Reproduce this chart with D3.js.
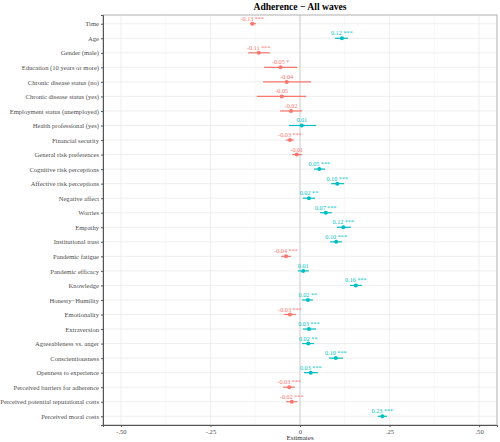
<!DOCTYPE html>
<html>
<head>
<meta charset="utf-8">
<script src="https://cdn.jsdelivr.net/npm/d3@7"></script>
<style>
  body { margin: 0; background: #fff; }
  svg { display: block; }
</style>
</head>
<body>
<svg id="chart" width="500" height="442"></svg>
<script>
const categories = [
  "Time", "Age", "Gender (male)", "Education (10 years or more)",
  "Chronic disease status (no)", "Chronic disease status (yes)",
  "Employment status (unemployed)", "Health professional (yes)",
  "Financial security", "General risk preferences", "Cognitive risk perceptions",
  "Affective risk perceptions", "Negative affect", "Worries", "Empathy",
  "Institutional trust", "Pandemic fatigue", "Pandemic efficacy", "Knowledge",
  "Honesty\u2212Humility", "Emotionality", "Extraversion", "Agreeableness vs. anger",
  "Conscientiousness", "Openness to experience", "Perceived barriers for adherence",
  "Perceived potential reputational costs", "Perceived moral costs"
];
const estimates = [
  -0.133, 0.117, -0.115, -0.054, -0.037, -0.051, -0.025, 0.005,
  -0.028, -0.009, 0.054, 0.104, 0.025, 0.072, 0.121, 0.101,
  -0.039, 0.009, 0.156, 0.022, -0.028, 0.025, 0.023, 0.100,
  0.030, -0.030, -0.023, 0.230
];
const ciLow = [
  -0.140, 0.098, -0.145, -0.100, -0.103, -0.120, -0.056, -0.031,
  -0.039, -0.022, 0.039, 0.087, 0.008, 0.056, 0.103, 0.084,
  -0.053, -0.006, 0.140, 0.006, -0.045, 0.008, 0.006, 0.081,
  0.011, -0.047, -0.039, 0.217
];
const ciHigh = [
  -0.123, 0.134, -0.084, -0.008, 0.031, 0.017, 0.006, 0.045,
  -0.017, 0.006, 0.070, 0.123, 0.042, 0.089, 0.142, 0.117,
  -0.025, 0.025, 0.173, 0.036, -0.011, 0.045, 0.039, 0.120,
  0.050, -0.014, -0.008, 0.243
];
const valueLabels = [
  "-0.13 ***", "0.12 ***", "-0.11 ***", "-0.05 *", "-0.04", "-0.05", "-0.02", "0.01",
  "-0.03 ***", "-0.01", "0.05 ***", "0.10 ***", "0.02 **", "0.07 ***", "0.12 ***", "0.10 ***",
  "-0.04 ***", "0.01", "0.16 ***", "0.02 **", "-0.03 ***", "0.03 ***", "0.02 **", "0.10 ***",
  "0.03 ***", "-0.03 ***", "-0.02 ***", "0.23 ***"
];
const tickValues = [-0.5, -0.25, 0, 0.25, 0.5];
const tickLabels = ["-.50", "-.25", "0", ".25", ".50"];
const minorTicks = [-0.375, -0.125, 0.125, 0.375];
const title = "Adherence \u2212 All waves";
const xTitle = "Estimates";

const negColor = "#F8766D", posColor = "#00BFC4";
const font = "'Liberation Serif', 'Times New Roman', serif";

const svg = d3.select("#chart");
const m = { left: 103, right: 3, top: 15, bottom: 17 };
const W = 500, H = 442;
const x = d3.scaleLinear().domain([-0.55, 0.55]).range([m.left, W - m.right]);
const y = d3.scalePoint().domain(categories).range([m.top, H - m.bottom]).padding(0.6);

const g = svg.append("g");

// grid
g.selectAll(".minor").data(minorTicks).enter().append("line")
  .attr("x1", d => x(d)).attr("x2", d => x(d))
  .attr("y1", m.top).attr("y2", H - m.bottom)
  .attr("stroke", "#f2f2f2").attr("stroke-width", 0.6);
g.selectAll(".major").data(tickValues).enter().append("line")
  .attr("x1", d => x(d)).attr("x2", d => x(d))
  .attr("y1", m.top).attr("y2", H - m.bottom)
  .attr("stroke", "#ebebeb").attr("stroke-width", 0.8);
g.selectAll(".hgrid").data(categories).enter().append("line")
  .attr("x1", m.left).attr("x2", W - m.right)
  .attr("y1", d => y(d)).attr("y2", d => y(d))
  .attr("stroke", "#ebebeb").attr("stroke-width", 0.8);

// zero line
g.append("line")
  .attr("x1", x(0)).attr("x2", x(0))
  .attr("y1", m.top).attr("y2", H - m.bottom)
  .attr("stroke", "#c8c8c8").attr("stroke-width", 0.8);

// panel border
g.append("rect")
  .attr("x", m.left).attr("y", m.top)
  .attr("width", W - m.right - m.left).attr("height", H - m.bottom - m.top)
  .attr("fill", "none").attr("stroke", "#b0b0b0").attr("stroke-width", 1);

// axes
const xAxis = d3.axisBottom(x).tickValues(tickValues)
  .tickFormat((d, i) => tickLabels[i]).tickSize(2).tickPadding(2);
const xg = g.append("g").attr("transform", `translate(0,${H - m.bottom})`).call(xAxis);
const yAxis = d3.axisLeft(y).tickSize(2).tickPadding(2);
const yg = g.append("g").attr("transform", `translate(${m.left},0)`).call(yAxis);
[xg, yg].forEach(a => {
  a.select(".domain").attr("stroke", "#555").attr("stroke-width", 1);
  a.selectAll(".tick line").attr("stroke", "#555");
  a.selectAll(".tick text").attr("fill", "#4d4d4d")
    .style("font-family", font).style("font-size", "6.6px");
});

// error bars
const idx = d3.range(categories.length);
const col = i => estimates[i] < 0 ? negColor : posColor;
g.selectAll(".ci").data(idx).enter().append("line")
  .attr("x1", i => x(ciLow[i])).attr("x2", i => x(ciHigh[i]))
  .attr("y1", i => y(categories[i])).attr("y2", i => y(categories[i]))
  .attr("stroke", col).attr("stroke-width", 1.2);
g.selectAll(".pt").data(idx).enter().append("circle")
  .attr("cx", i => x(estimates[i])).attr("cy", i => y(categories[i]))
  .attr("r", 2).attr("fill", col);
g.selectAll(".lbl").data(idx).enter().append("text")
  .attr("x", i => x(estimates[i])).attr("y", i => y(categories[i]) - 3)
  .attr("text-anchor", "middle")
  .attr("fill", col)
  .style("font-family", font).style("font-size", "6.2px")
  .text(i => valueLabels[i]);

// titles
svg.append("text").attr("x", x(0)).attr("y", 10)
  .attr("text-anchor", "middle")
  .style("font-family", font).style("font-size", "9.6px").style("font-weight", "bold")
  .text(title);
svg.append("text").attr("x", x(0)).attr("y", 440)
  .attr("text-anchor", "middle").attr("fill", "#333")
  .style("font-family", font).style("font-size", "7px")
  .text(xTitle);
</script>
</body>
</html>
